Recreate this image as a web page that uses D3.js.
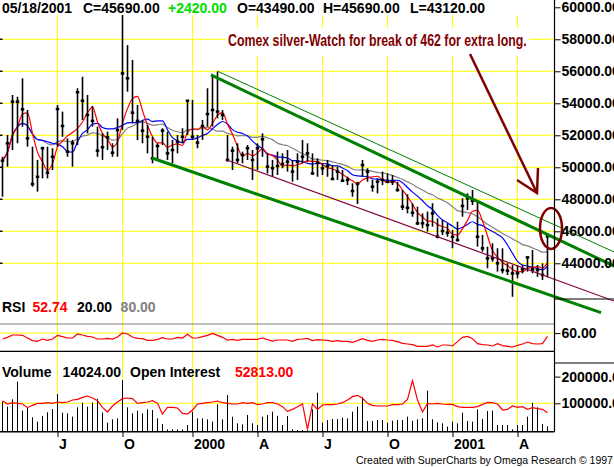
<!DOCTYPE html>
<html>
<head>
<meta charset="utf-8">
<script src="https://cdn.jsdelivr.net/npm/d3@7"></script>
<style>
  body { margin: 0; background: #fff; }
  svg { display: block; font-family: "Liberation Sans", Arial, sans-serif; }
</style>
</head>
<body>
<div class="chart"></div>
<script>
// weekly bars, Comex silver
var highs = [50660, 52020, 54520, 54410, 55560, 53580, 51290, 50460, 51290, 51290,
  51190, 53890, 53480, 51810, 51710, 54940, 55660, 54520, 53830, 52540,
  52120, 52230, 51500, 53060, 59520, 57640, 56710, 53900, 52960, 52640,
  51910, 51500, 52440, 52230, 51710, 52020, 52440, 54210, 54210, 52020,
  52960, 54940, 55770, 55970, 53580, 52020, 51290, 51500, 50980, 51390,
  51080, 51500, 52120, 50870, 50460, 50980, 50870, 51080, 50460, 50870,
  51710, 51500, 50870, 50560, 50250, 50460, 50140, 50040, 49830, 49410,
  49000, 49100, 50460, 49940, 49210, 49310, 49730, 49620, 49520, 49100,
  48580, 48320, 47750, 47540, 47120, 47230, 47750, 46810, 46710, 46500,
  46080, 46600, 48060, 48370, 48580, 47850, 45770, 45040, 45250, 44940,
  44940, 44000, 43890, 43890, 43890, 44410, 44830, 43890, 44000, 45690];
var lows = [48160, 50040, 51080, 51500, 52540, 51290, 48790, 48480, 49310, 49310,
  49830, 51290, 51910, 50660, 50040, 51390, 52960, 52120, 52540, 50660,
  50460, 51080, 50660, 50660, 52330, 54730, 52750, 51700, 51500, 50870,
  50250, 50460, 51390, 50460, 50250, 50870, 51500, 52020, 51710, 51190,
  51710, 52540, 52540, 53060, 52960, 50350, 49830, 50250, 50250, 50460,
  49210, 49830, 50660, 49620, 49400, 49520, 49940, 49730, 49100, 49210,
  50250, 50350, 49520, 49410, 49520, 49410, 49210, 49210, 49100, 48890,
  48160, 47710, 49410, 49100, 48480, 48370, 48890, 49000, 48890, 48480,
  47330, 47120, 46910, 46390, 46190, 45980, 46290, 45560, 45770, 45660,
  44940, 45350, 46910, 47330, 47640, 45040, 44730, 43690, 44100, 43480,
  43370, 43270, 41910, 43060, 43370, 43480, 43370, 43160, 42960, 43120];
var closes = [50410, 51500, 54100, 54100, 53620, 51810, 48960, 49410, 51190, 49660,
  50660, 53640, 52580, 50980, 51500, 54690, 54160, 53270, 52900, 51040,
  51250, 51870, 50910, 52330, 55870, 55560, 53410, 52900, 52290, 51910,
  50560, 51330, 52290, 50870, 51080, 51600, 51910, 54160, 51910, 51540,
  52580, 53330, 53580, 53480, 53270, 50460, 51040, 50460, 50770, 51190,
  50460, 51190, 51750, 50040, 49950, 50080, 50210, 50350, 49730, 50350,
  50660, 50870, 49620, 50290, 49940, 50080, 49270, 49730, 49160, 49210,
  48520, 48960, 50140, 49730, 48790, 49100, 49210, 49100, 49100, 48580,
  47540, 47470, 47160, 46500, 46500, 46390, 47120, 45660, 46020, 45910,
  45660, 45460, 47580, 48060, 47910, 45660, 44940, 44310, 44310, 44000,
  43580, 43540, 43370, 43370, 43620, 44370, 43620, 43580, 43270, 45690];
var lastOpen = 43490;

var rsi = [47.0, 50.7, 55.8, 55.8, 55.1, 49.2, 43.4, 41.9, 47.0, 44.1,
  47.0, 55.1, 52.2, 49.2, 49.2, 58.0, 55.8, 52.9, 51.4, 47.0,
  47.0, 48.5, 47.0, 51.4, 60.2, 58.0, 51.4, 48.5, 47.8, 44.1,
  44.1, 46.3, 50.0, 47.0, 47.0, 50.7, 49.2, 57.3, 49.2, 49.2,
  52.2, 55.1, 59.5, 55.1, 50.7, 44.8, 46.3, 44.1, 46.3, 46.3,
  46.3, 46.3, 49.2, 45.6, 42.6, 44.8, 44.8, 44.8, 41.9, 46.3,
  47.0, 48.5, 43.4, 45.6, 44.8, 44.1, 41.9, 43.4, 41.9, 41.9,
  39.7, 43.4, 47.8, 44.1, 41.9, 44.8, 46.3, 44.8, 44.1, 41.2,
  37.5, 36.1, 34.6, 30.9, 30.9, 30.9, 33.9, 29.5, 33.9, 33.9,
  31.7, 41.2, 50.7, 52.9, 47.8, 36.8, 34.6, 33.9, 31.7, 36.8,
  32.4, 30.9, 29.5, 33.1, 36.1, 40.4, 36.8, 36.1, 36.8, 52.74];

var volume = [106000, 87200, 114900, 181000, 72400, 85000, 47400, 31200, 52500, 66200,
  78700, 134800, 64900, 62400, 49900, 84900, 102300, 87400, 102300, 116000,
  64900, 27500, 39900, 43700, 187000, 84900, 62400, 72400, 62400, 77400,
  74900, 43700, 22500, 2500, 2500, 2500, 2500, 18700, 68600, 43700,
  43700, 39900, 31200, 96000, 39900, 131000, 49900, 25000, 21200, 56200,
  25000, 18700, 49900, 56200, 68600, 53000, 18700, 52500, 2500, 0,
  0, 0, 77400, 139800, 27500, 37450, 41200, 41200, 46200, 43700,
  68700, 87400, 122400, 33700, 33700, 37450, 37450, 27500, 34900, 37450,
  37450, 49900, 34900, 39900, 43700, 147300, 39900, 28700, 24970, 12500,
  31200, 24970, 64900, 33700, 31200, 77400, 41200, 71100, 72400, 18700,
  18700, 18700, 2500, 18700, 18700, 49900, 102300, 84900, 22500, 14024];
var openInt = [109900, 97400, 102300, 99900, 97400, 83600, 92400, 99900, 99900, 102300,
  99900, 104900, 102300, 104900, 112400, 114900, 122400, 127300, 119800, 109900,
  84900, 67400, 89900, 104900, 117400, 119800, 117400, 99900, 102300, 104900,
  109900, 99900, 59900, 84900, 84900, 82400, 62400, 59900, 74900, 97400,
  99900, 102300, 104900, 108600, 102300, 99900, 97400, 97400, 102300, 99900,
  102300, 94900, 97400, 102300, 102300, 97400, 87400, 69900, 77400, 87400,
  97400, 2500, 97400, 77400, 93600, 94900, 94900, 97400, 102300, 112400,
  124800, 129800, 118600, 99900, 92400, 89900, 89900, 89900, 94900, 94900,
  97400, 114900, 184700, 112400, 67400, 99900, 97400, 99900, 97400, 96100,
  96100, 87400, 84900, 84900, 84900, 87400, 96100, 103600, 102300, 97400,
  74900, 77400, 89900, 84900, 87400, 77400, 83600, 79900, 77400, 64900];
var lastOpenInt = 52813;

// month ticks (bar index of the first week of the month)
var monthIdx = [11, 24, 38, 51, 64, 77, 90, 103];
var monthLabels = ["J", "O", "2000", "A", "J", "O", "2001", "A"];
var priceTicks = [44000, 46000, 48000, 50000, 52000, 54000, 56000, 58000, 60000];
var rsiTicks = [60];
var volTicks = [100000, 200000];

// hand drawn trendlines: [start, end] in bar index and price
var trendIdx = [[42.9, 122.3], [41.7, 122.3], [29.9, 119.7], [44.9, 122.3]];
var trendPrice = [[56020, 44710], [55770, 43830], [50580, 40920], [50460, 41640]];
// arrow: shaft start, tip, two arm ends
var arrowIdx = [93.5, 106.9, 102.9, 107.1];
var arrowPrice = [57080, 48390, 49210, 49960];
// circle round the break point
var ringIdx = 109.7, ringPrice = 46180;

var svgWidth = 614;
var svgHeight = 467;
var plotRight = 554.5;

var svg = d3.select(".chart")
  .append("svg")
  .attr("width", svgWidth)
  .attr("height", svgHeight);

var x = d3.scaleLinear().domain([0, closes.length - 1]).range([2.5, 547.5]);
var yPrice = d3.scaleLinear().domain([44000, 60000]).range([263.3, 7.3]);
var yRsi = d3.scaleLinear().domain([20, 80]).range([351.3, 324]);
var yVol = d3.scaleLinear().domain([0, 100000]).range([430, 403.3]);

function sma(arr, n) {
  return arr.map(function(d, i) {
    return d3.mean(arr.slice(Math.max(0, i - n + 1), i + 1));
  });
}
var ma4 = sma(closes, 4);
var ma9 = sma(closes, 9);
var ma18 = sma(closes, 18);

var yellow = "#ffff00";

// grid
svg.append("g").selectAll("line")
  .data(priceTicks.filter(d => d < 60000))
  .enter().append("line")
  .attr("x1", 0).attr("x2", plotRight)
  .attr("y1", d => yPrice(d)).attr("y2", d => yPrice(d))
  .attr("stroke", yellow).attr("stroke-width", 1);

svg.append("g").selectAll("line")
  .data(monthIdx)
  .enter().append("line")
  .attr("x1", d => x(d)).attr("x2", d => x(d))
  .attr("y1", 15).attr("y2", 432)
  .attr("stroke", yellow).attr("stroke-width", 1);

svg.append("line")
  .attr("x1", 0).attr("x2", plotRight)
  .attr("y1", yRsi(60)).attr("y2", yRsi(60))
  .attr("stroke", yellow);
svg.append("line")
  .attr("x1", 0).attr("x2", plotRight)
  .attr("y1", yVol(100000)).attr("y2", yVol(100000))
  .attr("stroke", yellow);

// white box behind the note
svg.append("rect")
  .attr("x", 226).attr("y", 28).attr("width", 303).attr("height", 28)
  .attr("fill", "#fff");

// left edge ticks
svg.append("g").selectAll("line")
  .data(priceTicks.filter(d => d < 60000))
  .enter().append("line")
  .attr("x1", 0).attr("x2", 2.5)
  .attr("y1", d => yPrice(d)).attr("y2", d => yPrice(d))
  .attr("stroke", "#000").attr("stroke-width", 1.5);

// moving averages
var maLine = d3.line()
  .x((d, i) => x(i))
  .y(d => yPrice(d))
  .curve(d3.curveMonotoneX);

svg.append("path").datum(ma18).attr("d", maLine)
  .attr("fill", "none").attr("stroke", "#808080").attr("stroke-width", 1.2);
svg.append("path").datum(ma9).attr("d", maLine)
  .attr("fill", "none").attr("stroke", "#0000ff").attr("stroke-width", 1.2);
svg.append("path").datum(ma4).attr("d", maLine)
  .attr("fill", "none").attr("stroke", "#ff0000").attr("stroke-width", 1.2);

// price bars
var bars = svg.append("g");
bars.selectAll("line")
  .data(closes)
  .enter().append("line")
  .attr("x1", (d, i) => x(i)).attr("x2", (d, i) => x(i))
  .attr("y1", (d, i) => yPrice(highs[i]))
  .attr("y2", (d, i) => yPrice(lows[i]))
  .attr("stroke", "#000").attr("stroke-width", 1.6);
bars.selectAll("rect")
  .data(closes)
  .enter().append("rect")
  .attr("x", (d, i) => x(i) - 1.75)
  .attr("y", d => yPrice(d) - 1.25)
  .attr("width", 3.5).attr("height", 2.5)
  .attr("fill", "#000");

// trendlines
var trendColor = ["#008000", "#008000", "#008000", "#800040"];
var trendWidth = [1, 3, 3, 1.2];
svg.append("g").selectAll("line")
  .data(trendIdx)
  .enter().append("line")
  .attr("x1", d => x(d[0])).attr("x2", d => x(d[1]))
  .attr("y1", (d, i) => yPrice(trendPrice[i][0]))
  .attr("y2", (d, i) => yPrice(trendPrice[i][1]))
  .attr("stroke", (d, i) => trendColor[i])
  .attr("stroke-width", (d, i) => trendWidth[i]);

// arrow and ring
var maroon = "#800000";
svg.append("line")
  .attr("x1", x(arrowIdx[0])).attr("y1", yPrice(arrowPrice[0]))
  .attr("x2", x(arrowIdx[1])).attr("y2", yPrice(arrowPrice[1]))
  .attr("stroke", maroon).attr("stroke-width", 2.5);
svg.append("polyline")
  .attr("points", [2, 1, 3].map(k => x(arrowIdx[k]) + "," + yPrice(arrowPrice[k])).join(" "))
  .attr("fill", "none").attr("stroke", maroon).attr("stroke-width", 2.5);
svg.append("ellipse")
  .attr("cx", x(ringIdx)).attr("cy", yPrice(ringPrice))
  .attr("rx", x(ringIdx + 2.2) - x(ringIdx))
  .attr("ry", yPrice(ringPrice - 1280) - yPrice(ringPrice))
  .attr("fill", "none").attr("stroke", maroon).attr("stroke-width", 2.5);

// note, squeezed horizontally to the width it has in the picture
var note = svg.append("text")
  .attr("x", 0).attr("y", 0)
  .style("font-family", "'Liberation Sans Narrow', 'Arial Narrow', 'Liberation Sans', sans-serif")
  .style("font-size", "16px").style("font-weight", "bold")
  .attr("fill", maroon)
  .text("Comex silver-Watch for break of 462 for extra long.");
var noteW = note.node().getComputedTextLength();
note.attr("transform", `translate(228, 46) scale(${299 / noteW}, 1)`);

// RSI panel
svg.append("line")
  .attr("x1", 0).attr("x2", plotRight)
  .attr("y1", yRsi(80)).attr("y2", yRsi(80))
  .attr("stroke", "#808080").attr("stroke-width", 1.2);
svg.append("line")
  .attr("x1", 0).attr("x2", plotRight)
  .attr("y1", yRsi(20)).attr("y2", yRsi(20))
  .attr("stroke", "#000").attr("stroke-width", 1.2);
svg.append("path").datum(rsi)
  .attr("d", d3.line().x((d, i) => x(i)).y(d => yRsi(d)))
  .attr("fill", "none").attr("stroke", "#ff0000").attr("stroke-width", 1.2);

// volume panel
svg.append("g").selectAll("line")
  .data(volume)
  .enter().append("line")
  .attr("x1", (d, i) => x(i)).attr("x2", (d, i) => x(i))
  .attr("y1", yVol(0) + 1).attr("y2", d => yVol(d))
  .attr("stroke", "#000").attr("stroke-width", 1);
svg.append("path").datum(openInt)
  .attr("d", d3.line().x((d, i) => x(i)).y(d => yVol(d)))
  .attr("fill", "none").attr("stroke", "#ff0000").attr("stroke-width", 1.2);

// frame lines
svg.append("line")
  .attr("x1", plotRight).attr("x2", plotRight).attr("y1", 0).attr("y2", 432)
  .attr("stroke", "#000").attr("stroke-width", 1.2);
svg.append("line")
  .attr("x1", 0).attr("x2", plotRight).attr("y1", 431.8).attr("y2", 431.8)
  .attr("stroke", "#000").attr("stroke-width", 1.4);
[299, 363].forEach(function(yy) {
  svg.append("line")
    .attr("x1", plotRight).attr("x2", svgWidth).attr("y1", yy).attr("y2", yy)
    .attr("stroke", "#000").attr("stroke-width", 1.2);
});

// axes
function styleAxis(g) {
  g.select(".domain").remove();
  g.selectAll(".tick line").attr("stroke", "#000");
  g.selectAll(".tick text")
    .attr("fill", "#000")
    .style("font-size", "14px").style("font-weight", "bold")
    .style("font-family", "'Liberation Sans', Arial, sans-serif");
}
svg.append("g")
  .attr("transform", `translate(${plotRight}, 0)`)
  .call(d3.axisRight(yPrice).tickValues(priceTicks).tickFormat(d3.format(".2f")).tickSize(6).tickPadding(1))
  .call(styleAxis);
svg.append("g")
  .attr("transform", `translate(${plotRight}, 0)`)
  .call(d3.axisRight(yRsi).tickValues(rsiTicks).tickFormat(d3.format(".2f")).tickSize(6).tickPadding(1))
  .call(styleAxis);
svg.append("g")
  .attr("transform", `translate(${plotRight}, 0)`)
  .call(d3.axisRight(yVol).tickValues(volTicks).tickFormat(d3.format(".2f")).tickSize(6).tickPadding(1))
  .call(styleAxis);

var xAxis = svg.append("g")
  .attr("transform", "translate(0, 432)")
  .call(d3.axisBottom(x).tickValues(monthIdx).tickFormat((d, i) => monthLabels[i]).tickSize(5))
  .call(styleAxis);
xAxis.selectAll(".tick text")
  .attr("text-anchor", "start").attr("x", 1).attr("y", 7);

// header texts
var n = closes.length - 1;
var fmt = d3.format(".2f");
var change = closes[n] - closes[n - 1];
var header = [
  { x: 2, t: "05/18/2001", c: "#000" },
  { x: 83, t: "C=" + fmt(closes[n]), c: "#000" },
  { x: 168, t: (change >= 0 ? "+" : "") + fmt(change), c: "#00dd00" },
  { x: 237, t: "O=" + fmt(lastOpen), c: "#000" },
  { x: 323, t: "H=" + fmt(highs[n]), c: "#000" },
  { x: 410, t: "L=" + fmt(lows[n]), c: "#000" }
];
var rsiHead = [
  { x: 2, t: "RSI", c: "#000" },
  { x: 32.5, t: fmt(rsi[n]), c: "#ff0000" },
  { x: 77, t: fmt(20), c: "#000" },
  { x: 120.6, t: fmt(80), c: "#808080" }
];
var volHead = [
  { x: 2, t: "Volume", c: "#000" },
  { x: 62.6, t: fmt(volume[n]), c: "#000" },
  { x: 130, t: "Open Interest", c: "#000" },
  { x: 235, t: fmt(lastOpenInt), c: "#ff0000" }
];
function drawHead(items, yy) {
  svg.append("g").selectAll("text")
    .data(items)
    .enter().append("text")
    .attr("x", d => d.x).attr("y", yy)
    .attr("fill", d => d.c)
    .style("font-size", "14px").style("font-weight", "bold")
    .text(d => d.t);
}
drawHead(header, 12.5);
drawHead(rsiHead, 312.3);
drawHead(volHead, 376.7);

svg.append("text")
  .attr("x", 356).attr("y", 464)
  .style("font-size", "10.5px")
  .attr("fill", "#000")
  .text("Created with SuperCharts by Omega Research \u00a9 1997");
</script>
</body>
</html>
